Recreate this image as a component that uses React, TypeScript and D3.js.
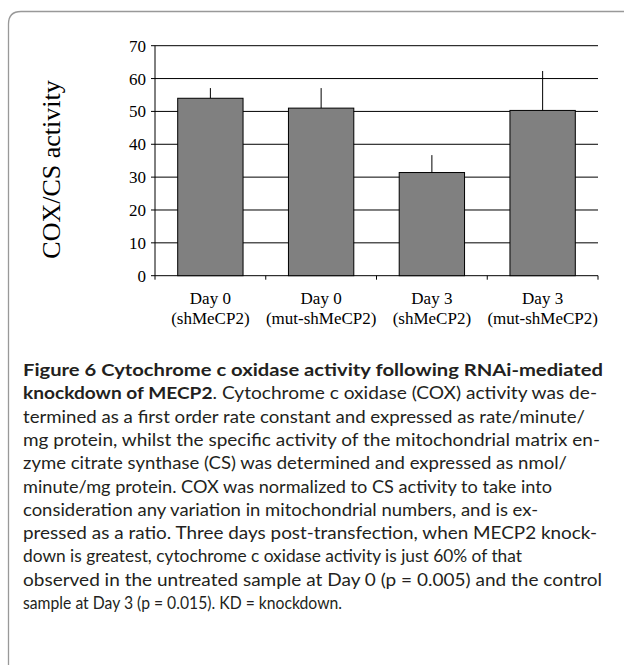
import React from "react";
import * as d3 from "d3";

const categories = ["Day 0|(shMeCP2)", "Day 0|(mut-shMeCP2)", "Day 3|(shMeCP2)", "Day 3|(mut-shMeCP2)"];
const values = [54.0, 51.0, 31.4, 50.3];
const errorsUp = [3.1, 6.1, 5.3, 12.0];
const yTicks = [0, 10, 20, 30, 40, 50, 60, 70];
const yLabel = "COX/CS activity";

const captionLines: { bold?: string; text: string; end: number }[] = [
  { bold: "Figure 6 Cytochrome c oxidase activity following RNAi-mediated", text: "", end: 603 },
  { bold: "knockdown of MECP2", text: ". Cytochrome c oxidase (COX) activity was de-", end: 597 },
  { text: "termined as a first order rate constant and expressed as rate/minute/", end: 585 },
  { text: "mg protein, whilst the specific activity of the mitochondrial matrix en-", end: 600 },
  { text: "zyme citrate synthase (CS) was determined and expressed as nmol/", end: 567 },
  { text: "minute/mg protein. COX was normalized to CS activity to take into", end: 552 },
  { text: "consideration any variation in mitochondrial numbers, and is ex-", end: 538 },
  { text: "pressed as a ratio. Three days post-transfection, when MECP2 knock-", end: 597 },
  { text: "down is greatest, cytochrome c oxidase activity is just 60% of that", end: 522 },
  { text: "observed in the untreated sample at Day 0 (p = 0.005) and the control", end: 602 },
  { text: "sample at Day 3 (p = 0.015). KD = knockdown.", end: 342 },
];

export default function App() {
  const W = 624, H = 665;
  const left = 155, right = 598, top = 45.7, bottom = 275.7;
  const x = d3.scaleBand<string>().domain(categories).range([left, right]).paddingInner(0.41).paddingOuter(0.205);
  const y = d3.scaleLinear().domain([0, 70]).range([bottom, top]);
  const band = (right - left) / categories.length;
  const serif = "'Liberation Serif', 'Times New Roman', serif";
  const sans = "Lato, 'Open Sans', sans-serif";
  const capX = 23;
  const capY0 = 376;
  const capDy = 23.3;
  return (
    <svg width={W} height={H} style={{ position: "absolute", left: 0, top: 0 }}>
      <rect x={0} y={0} width={W} height={H} fill="white" />
      <path d={`M8.5,${H + 20} L8.5,24 Q8.5,11.5 21,11.5 L${W + 20},11.5`} fill="none" stroke="#999" strokeWidth={1.3} />
      {yTicks.map((t) => (
        <line key={"g" + t} x1={left - 4} x2={right} y1={y(t)} y2={y(t)} stroke="#000" strokeWidth={1} />
      ))}
      <line x1={left} x2={left} y1={top} y2={bottom} stroke="#000" strokeWidth={1} />
      {yTicks.map((t) => (
        <text key={"t" + t} x={left - 9} y={y(t)} dy="0.35em" textAnchor="end" fontFamily={serif} fontSize={17} fill="#000">
          {t}
        </text>
      ))}
      {d3.range(categories.length + 1).map((i) => (
        <line key={"x" + i} x1={left + i * band} x2={left + i * band} y1={bottom} y2={bottom + 4} stroke="#000" />
      ))}
      {categories.map((c, i) => (
        <g key={c}>
          <line x1={x(c)! + x.bandwidth() / 2} x2={x(c)! + x.bandwidth() / 2} y1={y(values[i])} y2={y(values[i] + errorsUp[i])} stroke="#000" strokeWidth={1} />
          <rect x={x(c)!} y={y(values[i])} width={x.bandwidth()} height={bottom - y(values[i])} fill="#808080" stroke="#000" strokeWidth={1} />
        </g>
      ))}
      {categories.map((c) => {
        const [a, b] = c.split("|");
        const cx = x(c)! + x.bandwidth() / 2;
        return (
          <text key={"l" + c} textAnchor="middle" fontFamily={serif} fontSize={17} fill="#000">
            <tspan x={cx} y={304}>{a}</tspan>
            <tspan x={cx} y={324}>{b}</tspan>
          </text>
        );
      })}
      <text transform={`translate(60,169.5) rotate(-90)`} textAnchor="middle" fontFamily={serif} fontSize={26} fill="#000">
        {yLabel}
      </text>
      {captionLines.map((l, i) => (
        <text key={"c" + i} x={capX} y={capY0 + i * capDy} fontFamily={sans} fontSize={17} fill="#231f20"
          textLength={l.end - capX} lengthAdjust="spacingAndGlyphs">
          {l.bold ? <tspan fontWeight="bold">{l.bold}</tspan> : null}
          {l.text}
        </text>
      ))}
    </svg>
  );
}
